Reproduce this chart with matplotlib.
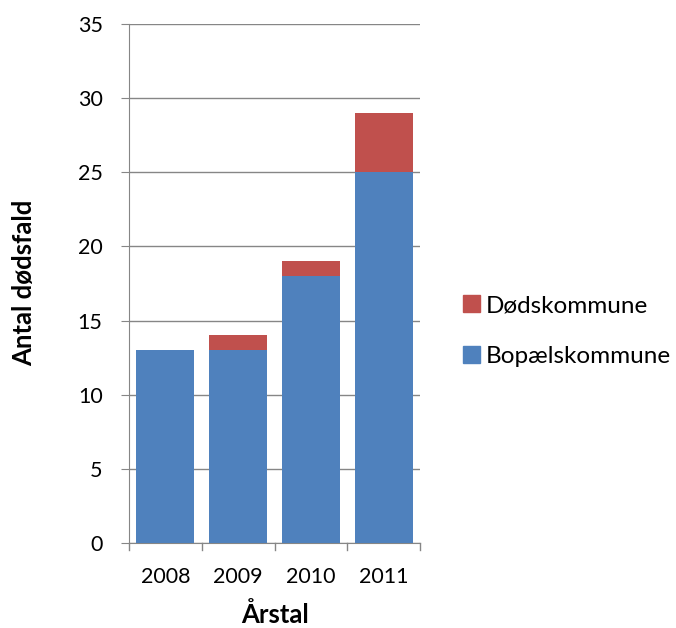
import matplotlib
matplotlib.use("Agg")
import matplotlib.pyplot as plt
from matplotlib.patches import Patch
import numpy as np

years = ["2008", "2009", "2010", "2011"]
bopael = [13, 13, 18, 25]
doeds = [0, 1, 1, 4]

plt.rcParams['font.family'] = ['Lato', 'DejaVu Sans']
FS_TICK = 15.5
FS_LEG = 17.5
FS_LAB = 18.5

fig = plt.figure(figsize=(6.76, 6.28), dpi=100)
ax = fig.add_axes([129/676, 1-543/628, (420-129)/676, (543-24)/628])

x = np.arange(len(years))
blue = "#4F81BD"
red = "#C0504D"
ax.bar(x, bopael, width=0.8, color=blue, zorder=3)
ax.bar(x, doeds, width=0.8, bottom=bopael, color=red, zorder=3)

ax.set_xlim(-0.5, len(years) - 0.5)
ax.set_ylim(0, 35)
ax.set_yticks(range(0, 36, 5))
ax.yaxis.grid(True, color="#868686", linewidth=1, zorder=0)
ax.set_xticks(x)
ax.set_xticklabels(years, fontsize=FS_TICK)
ax.tick_params(axis='y', labelsize=FS_TICK, length=6, color="#868686", pad=13)
ax.tick_params(axis='x', length=0, pad=17)
for b in np.arange(-0.5, len(years), 1.0):
    ax.plot([b, b], [0, -0.45], color="#868686", lw=1, clip_on=False)
for s in ["top", "right"]:
    ax.spines[s].set_visible(False)
for s in ["left", "bottom"]:
    ax.spines[s].set_color("#868686")

fig.text(24/676, 1-283/628, "Antal dødsfald", rotation=90, ha="center", va="center",
         fontsize=FS_LAB, fontweight="bold")
fig.text(275/676, 1-615/628, "Årstal", ha="center", va="center",
         fontsize=FS_LAB, fontweight="bold")

handles = [Patch(color=red, label="Dødskommune"), Patch(color=blue, label="Bopælskommune")]
fig.legend(handles=handles, loc="center left", bbox_to_anchor=(441/676, 1-331/628),
           frameon=False, fontsize=FS_LEG, handlelength=0.7, handleheight=0.7,
           handletextpad=0.25, labelspacing=1.2)

fig.savefig("out.png", dpi=100)
